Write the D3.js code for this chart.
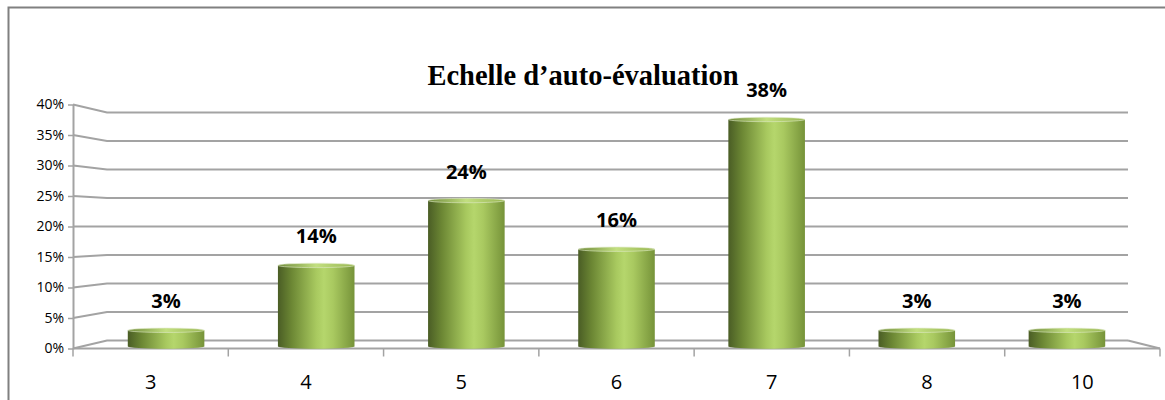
<!DOCTYPE html>
<html>
<head>
<meta charset="utf-8">
<title>Echelle d'auto-évaluation</title>
<script src="https://d3js.org/d3.v7.min.js"></script>
<style>
  body { margin: 0; background: #fff; }
  .tick text { font-family: "Open Sans", "Noto Sans", sans-serif; fill: #000; }
</style>
</head>
<body>
<div class="graph"></div>
<script>
// data: answers per score (out of 37 respondents)
const categories = ['3', '4', '5', '6', '7', '8', '10'];
const counts = [1, 5, 9, 6, 14, 1, 1];
const total = 37;
const percents = counts.map(c => c / total);
const yTicks = [0, 0.05, 0.10, 0.15, 0.20, 0.25, 0.30, 0.35, 0.40];
const title = 'Echelle d\u2019auto-évaluation';

const width = 1165, height = 400;
const pct = d3.format('.0%');

const svg = d3.select('.graph').append('svg')
    .attr('width', width)
    .attr('height', height);

// gradients for the cylinders
const defs = svg.append('defs');
const body = defs.append('linearGradient').attr('id', 'cyl')
    .attr('x1', '0%').attr('x2', '100%').attr('y1', '0%').attr('y2', '0%');
[[0, '#4a5d25'], [0.18, '#6c8734'], [0.5, '#a8c95f'], [0.6, '#b5d66c'], [0.72, '#a9c960'], [1, '#769339']]
    .forEach(s => body.append('stop').attr('offset', s[0]).attr('stop-color', s[1]));
const cap = defs.append('linearGradient').attr('id', 'cap')
    .attr('x1', '0%').attr('x2', '100%').attr('y1', '0%').attr('y2', '0%');
[[0, '#6f8a3a'], [0.5, '#c2df80'], [1, '#98b652']]
    .forEach(s => cap.append('stop').attr('offset', s[0]).attr('stop-color', s[1]));

// outer frame
svg.append('rect')
    .attr('x', 8.5).attr('y', 7.5)
    .attr('width', width + 10).attr('height', height + 10)
    .attr('fill', 'none')
    .attr('stroke', '#808080')
    .attr('stroke-width', 2);

// title
svg.append('text')
    .attr('x', 583).attr('y', 85)
    .attr('text-anchor', 'middle')
    .style('font-family', '"Liberation Serif", "Times New Roman", serif')
    .style('font-weight', 'bold')
    .style('font-size', '28.5px')
    .text(title);

// scales: front face, back wall, and bar depth
const yFront = d3.scaleLinear().domain([0, 0.4]).range([348.5, 104.5]);
const yBack = d3.scaleLinear().domain([0, 0.4]).range([340.5, 112.5]);
const yBar = d3.scaleLinear().domain([0, 0.4]).range([346.5, 106.5]);

const xFront = d3.scaleBand().domain(categories).range([73, 1160]);
const xBar = d3.scaleBand().domain(categories).range([91, 1142])
    .paddingInner(0.49).paddingOuter(0.245);

const backLeft = 107, backRight = 1128;
const grid = svg.append('g')
    .attr('fill', 'none')
    .attr('stroke', '#a3a3a3')
    .attr('stroke-width', 2);

// gridlines along side wall and back wall
grid.selectAll('path.grid')
    .data(yTicks)
    .enter()
    .append('path')
    .attr('class', 'grid')
    .attr('d', d => `M73,${yFront(d)}L${backLeft},${yBack(d)}L${backRight},${yBack(d)}`);

// floor right edge and front edge
grid.append('path')
    .attr('d', `M${backRight},${yBack(0)}L1160,${yFront(0)}`);
grid.append('path')
    .attr('d', `M73,${yFront(0)}L1160,${yFront(0)}`);

// y axis
const yAxis = d3.axisLeft(yFront)
    .tickValues(yTicks)
    .tickFormat(pct)
    .tickSize(5)
    .tickSizeOuter(0)
    .tickPadding(4);

const ya = svg.append('g')
    .attr('transform', 'translate(73,0)')
    .call(yAxis);
ya.select('.domain').attr('stroke', '#a3a3a3').attr('stroke-width', 2);
ya.selectAll('.tick line').attr('stroke', '#a3a3a3').attr('stroke-width', 1.5);
ya.selectAll('.tick text').style('font-size', '14px');

// x tick marks at category edges
const xEdges = categories.map(c => xFront(c)).concat([xFront.range()[1]]);
svg.append('g').selectAll('line')
    .data(xEdges)
    .enter()
    .append('line')
    .attr('x1', d => d).attr('x2', d => d)
    .attr('y1', yFront(0)).attr('y2', yFront(0) + 8)
    .attr('stroke', '#a3a3a3')
    .attr('stroke-width', 1.5);

// x labels
const xAxis = d3.axisBottom(xFront).tickSize(0).tickPadding(26);
const xa = svg.append('g')
    .attr('transform', `translate(0,${yFront(0)})`)
    .call(xAxis);
xa.select('.domain').remove();
xa.selectAll('.tick text').style('font-size', '20px');

// cylinders
const ry = 2.2;
const bars = svg.append('g').selectAll('g')
    .data(categories.map((c, i) => ({ cat: c, value: percents[i] })))
    .enter()
    .append('g');

bars.append('ellipse')
    .attr('cx', d => xBar(d.cat) + xBar.bandwidth() / 2)
    .attr('cy', yBar(0))
    .attr('rx', xBar.bandwidth() / 2)
    .attr('ry', ry)
    .attr('fill', 'url(#cyl)');

bars.append('rect')
    .attr('x', d => xBar(d.cat))
    .attr('y', d => yBar(d.value))
    .attr('width', xBar.bandwidth())
    .attr('height', d => yBar(0) - yBar(d.value))
    .attr('fill', 'url(#cyl)');

bars.append('ellipse')
    .attr('cx', d => xBar(d.cat) + xBar.bandwidth() / 2)
    .attr('cy', d => yBar(d.value))
    .attr('rx', xBar.bandwidth() / 2)
    .attr('ry', ry)
    .attr('fill', 'url(#cap)')
    .attr('stroke', '#dfe9c8')
    .attr('stroke-width', 0.6);

// value labels
bars.append('text')
    .attr('x', d => xBar(d.cat) + xBar.bandwidth() / 2)
    .attr('y', d => yBar(d.value) - 22)
    .attr('text-anchor', 'middle')
    .style('font-family', '"Open Sans", "Noto Sans", sans-serif')
    .style('font-weight', 'bold')
    .style('font-size', '20px')
    .text(d => pct(d.value));
</script>
</body>
</html>
